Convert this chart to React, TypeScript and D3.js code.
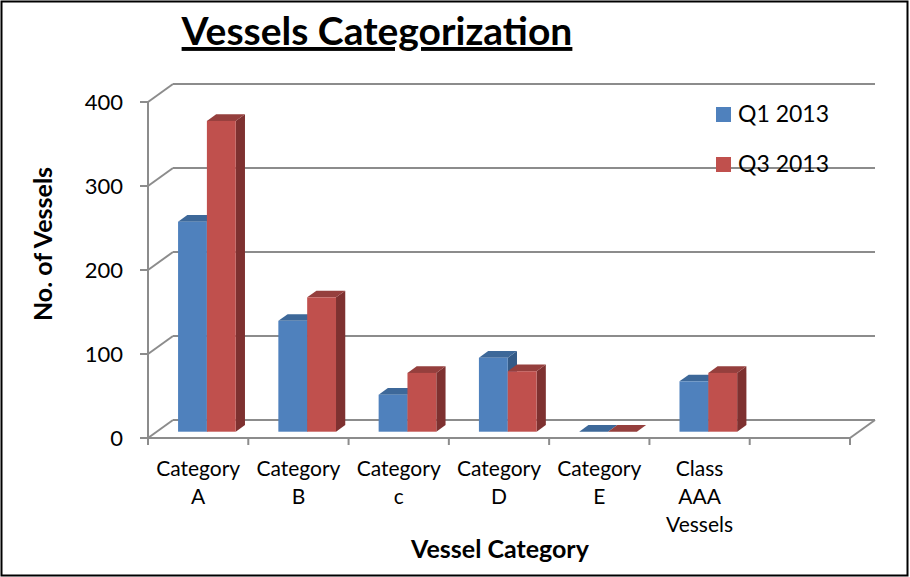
import React from "react";
import * as d3 from "d3";

// chart data
const categories = ["Category A", "Category B", "Category c", "Category D", "Category E", "Class AAA Vessels", ""];
const seriesNames = ["Q1 2013", "Q3 2013"];
const q1Values = [250, 132, 44, 88, 0, 60, null];
const q3Values = [370, 160, 70, 72, 0, 70, null];
const yTicks = [0, 100, 200, 300, 400];

const seriesValues = [q1Values, q3Values];
const colors = [
  { front: "#4F81BD", top: "#3D6899", side: "#345B88" },
  { front: "#C0504D", top: "#953F3D", side: "#7E3130" },
];

const width = 910;
const height = 577;
const FONT = "Lato, 'Open Sans', sans-serif";

// oblique depth of the plot box
const DX = 25;
const DY = -18;
const BAR_F0 = 0.35;
const BAR_F1 = 0.72;

const App = () => {
  const X0 = 148;
  const X1 = 850;

  const yScale = d3.scaleLinear().domain([0, 400]).range([438, 102]);
  const xScale = d3.scaleBand().domain(categories).range([X0, X1]).padding(0);
  const bw = xScale.bandwidth();
  const clusterShare = 0.575;
  const inner = d3.scaleBand().domain(seriesNames).range([0, bw * clusterShare]);
  const clusterOff = (bw * (1 - clusterShare)) / 2;

  const pts = (p) => p.map((d) => d.join(",")).join(" ");
  const gridColor = "#8C8C8C";

  // back wall gridlines + left wall diagonals
  const grid = yTicks.map((t) => {
    const yf = yScale(t);
    return (
      <g key={t}>
        <line x1={X0 + DX} x2={X1 + DX} y1={yf + DY} y2={yf + DY} stroke={gridColor} strokeWidth={2} />
        <line x1={X0} x2={X0 + DX} y1={yf} y2={yf + DY} stroke={gridColor} strokeWidth={2} />
        <line x1={X0 - 8} x2={X0} y1={yf} y2={yf} stroke={gridColor} strokeWidth={2} />
        <text x={123} y={yf} dy="0.35em" textAnchor="end" fontSize={22} fontFamily={FONT}>
          {t}
        </text>
      </g>
    );
  });

  const bars = [];
  categories.forEach((cat, i) => {
    seriesNames.forEach((s, j) => {
      const v = seriesValues[j][i];
      if (v === null || v === undefined) return;
      const c = colors[j];
      const xl = xScale(cat) + clusterOff + inner(s) + DX * BAR_F0;
      const xr = xl + inner.bandwidth();
      const yb = yScale(0) + DY * BAR_F0;
      const yt = yScale(v) + DY * BAR_F0;
      const ddx = DX * (BAR_F1 - BAR_F0);
      const ddy = DY * (BAR_F1 - BAR_F0);
      bars.push(
        <g key={cat + s}>
          <polygon points={pts([[xr, yt], [xr + ddx, yt + ddy], [xr + ddx, yb + ddy], [xr, yb]])} fill={c.side} />
          <polygon points={pts([[xl, yt], [xr, yt], [xr + ddx, yt + ddy], [xl + ddx, yt + ddy]])} fill={c.top} />
          <rect x={xl} y={yt} width={xr - xl} height={yb - yt} fill={c.front} />
        </g>
      );
    });
  });

  const xTicks = d3.range(categories.length + 1).map((k) => X0 + k * bw);

  return (
    <svg width={width} height={height} style={{ position: "absolute", left: 0, top: 0, background: "#fff" }}>
      <rect x={1.5} y={1.5} width={width - 4} height={height - 3} fill="#fff" stroke="#000" strokeWidth={2} />

      <text x={377} y={45} textAnchor="middle" fontSize={39} fontWeight="bold" fontFamily={FONT} textDecoration="underline">
        Vessels Categorization
      </text>

      {grid}

      {/* floor */}
      <line x1={X0} x2={X1} y1={yScale(0)} y2={yScale(0)} stroke={gridColor} strokeWidth={2} />
      <line x1={X1} x2={X1 + DX} y1={yScale(0)} y2={yScale(0) + DY} stroke={gridColor} strokeWidth={2} />
      <line x1={X0} x2={X0} y1={yScale(400)} y2={yScale(0)} stroke={gridColor} strokeWidth={2} />
      {xTicks.map((x, k) => (
        <line key={k} x1={x} x2={x} y1={yScale(0)} y2={yScale(0) + 7} stroke={gridColor} strokeWidth={2} />
      ))}

      {/* legend */}
      {seriesNames.map((s, j) => (
        <g key={s} transform={`translate(716, ${107 + j * 50})`}>
          <rect x={0} y={0} width={15} height={15} fill={colors[j].front} />
          <text x={22} y={15} fontSize={23} fontFamily={FONT}>
            {s}
          </text>
        </g>
      ))}

      {bars}

      {categories.map((cat) => (
        <text key={cat} x={xScale(cat) + bw / 2} y={476} textAnchor="middle" fontSize={21} fontFamily={FONT}>
          {cat.split(" ").filter((w) => w).map((w, k) => (
            <tspan key={k} x={xScale(cat) + bw / 2} dy={k === 0 ? 0 : 28}>
              {w}
            </tspan>
          ))}
        </text>
      ))}

      <text x={500} y={558} textAnchor="middle" fontSize={25} fontWeight="bold" fontFamily={FONT}>
        Vessel Category
      </text>
      <text
        transform="translate(52, 244) rotate(-90)"
        textAnchor="middle"
        fontSize={25}
        fontWeight="bold"
        fontFamily={FONT}
      >
        No. of Vessels
      </text>
    </svg>
  );
};

export default App;
